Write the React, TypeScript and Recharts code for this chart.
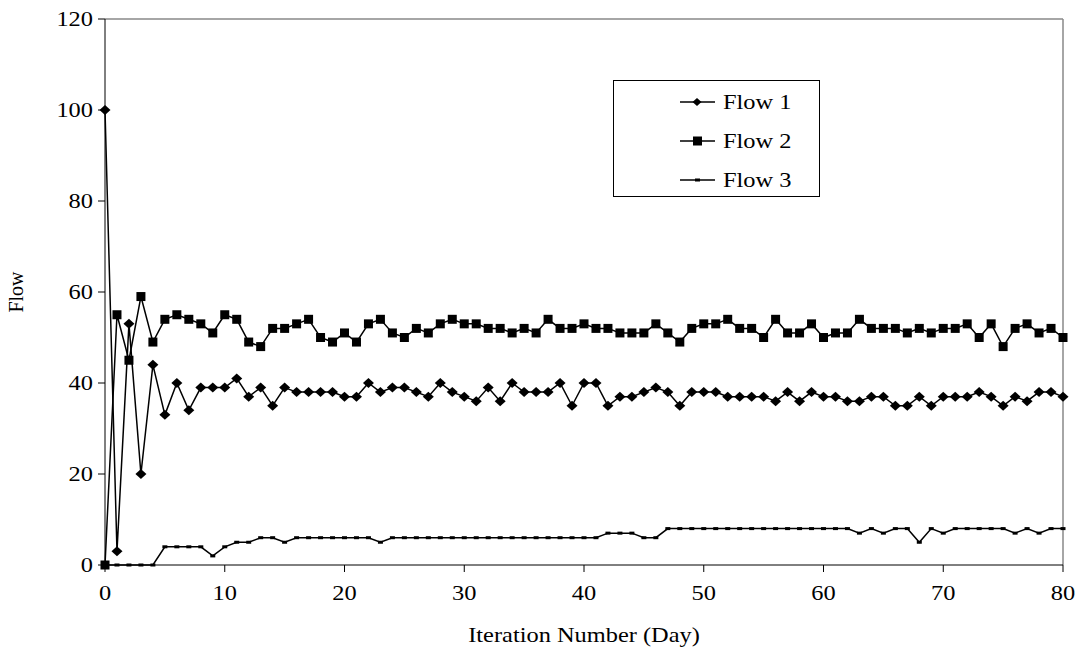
import React from "react";
import { LineChart, Line, XAxis, YAxis, ReferenceLine } from "recharts";

const days = [0,1,2,3,4,5,6,7,8,9,10,11,12,13,14,15,16,17,18,19,20,21,22,23,24,25,26,27,28,29,30,31,32,33,34,35,36,37,38,39,40,41,42,43,44,45,46,47,48,49,50,51,52,53,54,55,56,57,58,59,60,61,62,63,64,65,66,67,68,69,70,71,72,73,74,75,76,77,78,79,80];
const flow1 = [100,3,53,20,44,33,40,34,39,39,39,41,37,39,35,39,38,38,38,38,37,37,40,38,39,39,38,37,40,38,37,36,39,36,40,38,38,38,40,35,40,40,35,37,37,38,39,38,35,38,38,38,37,37,37,37,36,38,36,38,37,37,36,36,37,37,35,35,37,35,37,37,37,38,37,35,37,36,38,38,37];
const flow2 = [0,55,45,59,49,54,55,54,53,51,55,54,49,48,52,52,53,54,50,49,51,49,53,54,51,50,52,51,53,54,53,53,52,52,51,52,51,54,52,52,53,52,52,51,51,51,53,51,49,52,53,53,54,52,52,50,54,51,51,53,50,51,51,54,52,52,52,51,52,51,52,52,53,50,53,48,52,53,51,52,50];
const flow3 = [0,0,0,0,0,4,4,4,4,2,4,5,5,6,6,5,6,6,6,6,6,6,6,5,6,6,6,6,6,6,6,6,6,6,6,6,6,6,6,6,6,6,7,7,7,6,6,8,8,8,8,8,8,8,8,8,8,8,8,8,8,8,8,7,8,7,8,8,5,8,7,8,8,8,8,8,7,8,7,8,8];
const xTicks = [0,10,20,30,40,50,60,70,80];
const yTicks = [0,20,40,60,80,100,120];
const seriesNames = ["Flow 1", "Flow 2", "Flow 3"];
const xTitle = "Iteration Number (Day)";
const yTitle = "Flow";

const data = days.map((d, i) => ({ day: d, f1: flow1[i], f2: flow2[i], f3: flow3[i] }));

const FONT = "'Liberation Serif', 'Times New Roman', serif";
const FS = 20;
const SX = 1.22;

const Diamond = (props: any) => {
  const { cx, cy } = props;
  if (cx == null || cy == null) return null;
  const rx = 5.5, ry = 5;
  return <polygon key={`d-${props.index}`} points={`${cx},${cy - ry} ${cx + rx},${cy} ${cx},${cy + ry} ${cx - rx},${cy}`} fill="#000" />;
};
const Square = (props: any) => {
  const { cx, cy } = props;
  if (cx == null || cy == null) return null;
  const s = 9;
  return <rect key={`s-${props.index}`} x={cx - s / 2} y={cy - s / 2} width={s} height={s} fill="#000" />;
};
const Dash = (props: any) => {
  const { cx, cy } = props;
  if (cx == null || cy == null) return null;
  return <rect key={`t-${props.index}`} x={cx - 2.5} y={cy - 1.5} width={5} height={3} fill="#000" />;
};

const StretchText = ({ x, y, anchor, dy, children }: any) => (
  <text
    transform={`translate(${x},${y}) scale(${SX},1)`}
    x={0}
    y={0}
    dy={dy}
    textAnchor={anchor}
    fontFamily={FONT}
    fontSize={FS}
    fill="#000"
  >
    {children}
  </text>
);

const XTick = (props: any) => {
  const { x, y, payload } = props;
  return <StretchText x={x} y={y} anchor="middle" dy="0.71em">{payload.value}</StretchText>;
};
const YTick = (props: any) => {
  const { x, y, payload } = props;
  return <StretchText x={x} y={y} anchor="end" dy="0.35em">{payload.value}</StretchText>;
};

const XLabel = (props: any) => {
  const vb = props.viewBox || { x: 105, width: 958, y: 565 };
  return <StretchText x={vb.x + vb.width / 2} y={642} anchor="middle" dy="0">{xTitle}</StretchText>;
};

const YLabel = () => (
  <text x={18} y={292} transform="rotate(-90, 18, 292)" textAnchor="middle" dominantBaseline="middle" fontFamily={FONT} fontSize={FS} fill="#000">
    {yTitle}
  </text>
);

const LegendBox = () => {
  const rows = [22, 61, 100];
  return (
    <svg width={207} height={118} style={{ display: "block" }}>
      <rect x={0.5} y={0.5} width={206} height={116} fill="#fff" stroke="#000" strokeWidth={1} />
      {seriesNames.map((name, i) => (
        <g key={name}>
          <line x1={67} x2={102} y1={rows[i]} y2={rows[i]} stroke="#000" strokeWidth={1.5} />
          {i === 0 && (
            <polygon points={`84,${rows[i] - 4} 88.5,${rows[i]} 84,${rows[i] + 4} 79.5,${rows[i]}`} fill="#000" />
          )}
          {i === 1 && <rect x={80} y={rows[i] - 4.5} width={9} height={9} fill="#000" />}
          {i === 2 && <rect x={82} y={rows[i] - 1.5} width={5} height={3} fill="#000" />}
          <StretchText x={110} y={rows[i]} anchor="start" dy="0.35em">{name}</StretchText>
        </g>
      ))}
    </svg>
  );
};

export default function App() {
  return (
    <div style={{ position: "absolute", left: 0, top: 0, width: 1076, height: 651, background: "#fff" }}>
      <LineChart width={1076} height={651} data={data} margin={{ top: 19, right: 13, bottom: 6, left: 0 }}>
        <XAxis
          dataKey="day"
          type="number"
          domain={[0, 80]}
          ticks={xTicks}
          interval={0}
          tickSize={7}
          tickMargin={14}
          height={80}
          stroke="#000"
          tick={<XTick />}
          label={<XLabel />}
        />
        <YAxis
          type="number"
          domain={[0, 120]}
          ticks={yTicks}
          interval={0}
          width={105}
          tickSize={7}
          tickMargin={5}
          stroke="#000"
          tick={<YTick />}
          label={<YLabel />}
        />
        <ReferenceLine y={120} stroke="#888" strokeWidth={1.5} />
        <ReferenceLine x={80} stroke="#888" strokeWidth={1.5} />
        <Line dataKey="f3" name="Flow 3" stroke="#000" strokeWidth={1.5} dot={<Dash />} isAnimationActive={false} />
        <Line dataKey="f1" name="Flow 1" stroke="#000" strokeWidth={1.5} dot={<Diamond />} isAnimationActive={false} />
        <Line dataKey="f2" name="Flow 2" stroke="#000" strokeWidth={1.5} dot={<Square />} isAnimationActive={false} />
      </LineChart>
      <div style={{ position: "absolute", left: 613, top: 80 }}>
        <LegendBox />
      </div>
    </div>
  );
}
